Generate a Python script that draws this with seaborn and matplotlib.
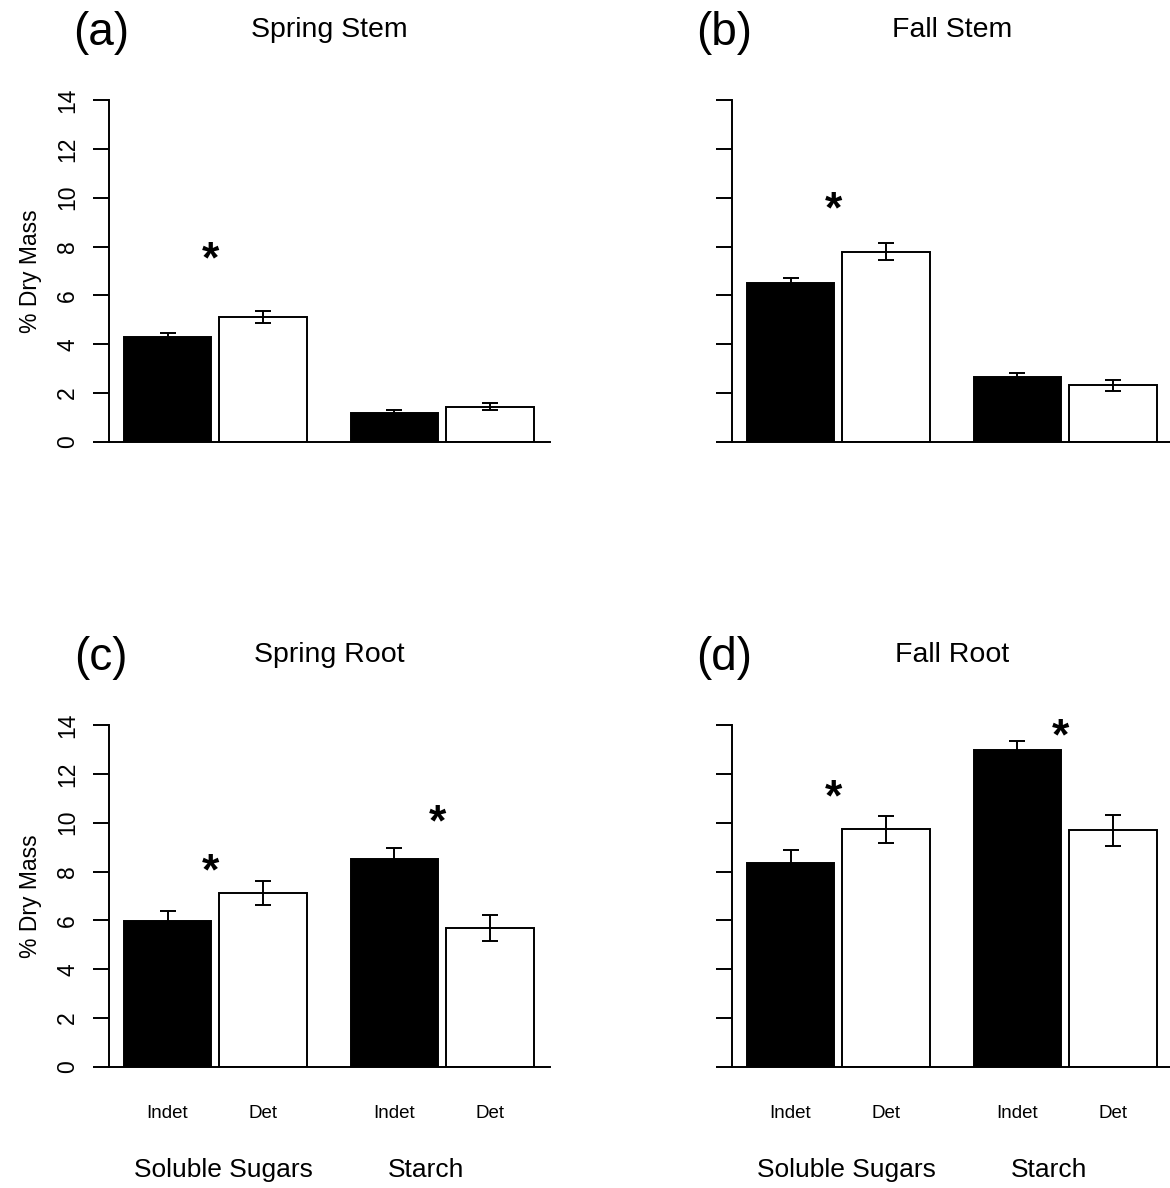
import numpy as np
import pandas as pd
import seaborn as sns
import matplotlib.pyplot as plt

# data
panels = ["(a)", "(b)", "(c)", "(d)"]
titles = ["Spring Stem", "Fall Stem", "Spring Root", "Fall Root"]
nutrients = ["Soluble Sugars", "Starch"]
types = ["Indet", "Det"]

# means, order: Sugars-Indet, Sugars-Det, Starch-Indet, Starch-Det
spring_stem = [4.31, 5.12, 1.19, 1.44]
fall_stem = [6.50, 7.79, 2.65, 2.32]
spring_root = [5.98, 7.14, 8.50, 5.70]
fall_root = [8.37, 9.74, 12.98, 9.69]

spring_stem_se = [0.16, 0.24, 0.14, 0.14]
fall_stem_se = [0.23, 0.36, 0.19, 0.23]
spring_root_se = [0.40, 0.49, 0.45, 0.54]
fall_root_se = [0.52, 0.55, 0.38, 0.64]

# significance stars: (nutrient, height)
stars = {
    "(a)": [("Soluble Sugars", 7.9)],
    "(b)": [("Soluble Sugars", 9.95)],
    "(c)": [("Soluble Sugars", 8.43), ("Starch", 10.41)],
    "(d)": [("Soluble Sugars", 11.45), ("Starch", 13.93)],
}

means = [spring_stem, fall_stem, spring_root, fall_root]
ses = [spring_stem_se, fall_stem_se, spring_root_se, fall_root_se]

rows = []
for p, m, s in zip(panels, means, ses):
    k = 0
    for n in nutrients:
        for t in types:
            rows.append({"panel": p, "nutrient": n, "type": t, "value": m[k], "se": s[k]})
            k += 1
df = pd.DataFrame(rows)

sns.set_style("ticks")
plt.rcParams["font.family"] = ["Liberation Sans", "DejaVu Sans"]
plt.rcParams.update({"text.color": "black", "axes.edgecolor": "black",
                     "ytick.color": "black", "xtick.color": "black",
                     "axes.labelcolor": "black"})

W, H = 1170, 1188
fig = plt.figure(figsize=(W / 100, H / 100), dpi=100)

# axes boxes in pixels: left, top(y=14), width, height
boxes = [(109, 100), (732, 100), (109, 725), (732, 725)]
aw, ah = 441, 342
lw = 1.4

for i, p in enumerate(panels):
    left, top = boxes[i]
    ax = fig.add_axes([left / W, (H - top - ah) / H, aw / W, ah / H])
    sub = df[df.panel == p]
    sns.barplot(data=sub, x="nutrient", y="value", hue="type",
                order=nutrients, hue_order=types,
                palette={"Indet": "black", "Det": "white"},
                edgecolor="black", linewidth=lw, width=0.845, gap=0.083,
                errorbar=None, legend=False, ax=ax)

    # error bars at bar centres
    for t, cont in zip(types, ax.containers):
        for n, bar in zip(nutrients, cont):
            r = sub[(sub.nutrient == n) & (sub.type == t)].iloc[0]
            xc = bar.get_x() + bar.get_width() / 2
            ax.errorbar(xc, r.value, yerr=r.se, fmt="none", ecolor="black",
                        elinewidth=lw, capsize=6, capthick=lw, zorder=5)
            if i >= 2:
                ax.text(xc, -46 / ah, t, transform=ax.get_xaxis_transform(),
                        ha="center", va="center", fontsize=13.5)

    for n, h in stars[p]:
        xg = nutrients.index(n)
        ax.annotate("*", xy=(xg - 0.02, h), xytext=(0, -0.52 * 32),
                    textcoords="offset points", ha="center", va="baseline",
                    fontsize=32, fontweight="bold", annotation_clip=False)

    ax.set_xlim(-0.469, 1.474)
    ax.set_ylim(0, 14)
    ax.set_yticks(np.arange(0, 15, 2))
    ax.set_xticks([])
    ax.set_xlabel("")
    ax.set_ylabel("")
    sns.despine(ax=ax, top=True, right=True)
    for side in ["left", "bottom"]:
        ax.spines[side].set_linewidth(lw)
    ax.tick_params(axis="y", length=11.5, width=lw, pad=10, labelsize=16.5,
                   labelrotation=90)
    for lab in ax.get_yticklabels():
        lab.set_va("center")
    if i % 2 == 0:
        ax.set_ylabel("% Dry Mass", fontsize=16.5, labelpad=10)
    else:
        ax.set_yticklabels([])

    ax.text(-8 / aw, 1 + 67 / ah, p, transform=ax.transAxes, ha="center",
            va="center", fontsize=33)
    ax.text(0.5, 1 + 70 / ah, titles[i], transform=ax.transAxes, ha="center",
            va="center", fontsize=20.5)

    if i >= 2:
        tr = ax.get_xaxis_transform()
        ax.text(0.033, -103 / ah, nutrients[0], transform=tr, ha="center",
                va="center", fontsize=19)
        ax.text(0.927, -103 / ah, nutrients[1], transform=tr, ha="center",
                va="center", fontsize=19)

fig.savefig("out.png", dpi=100)
